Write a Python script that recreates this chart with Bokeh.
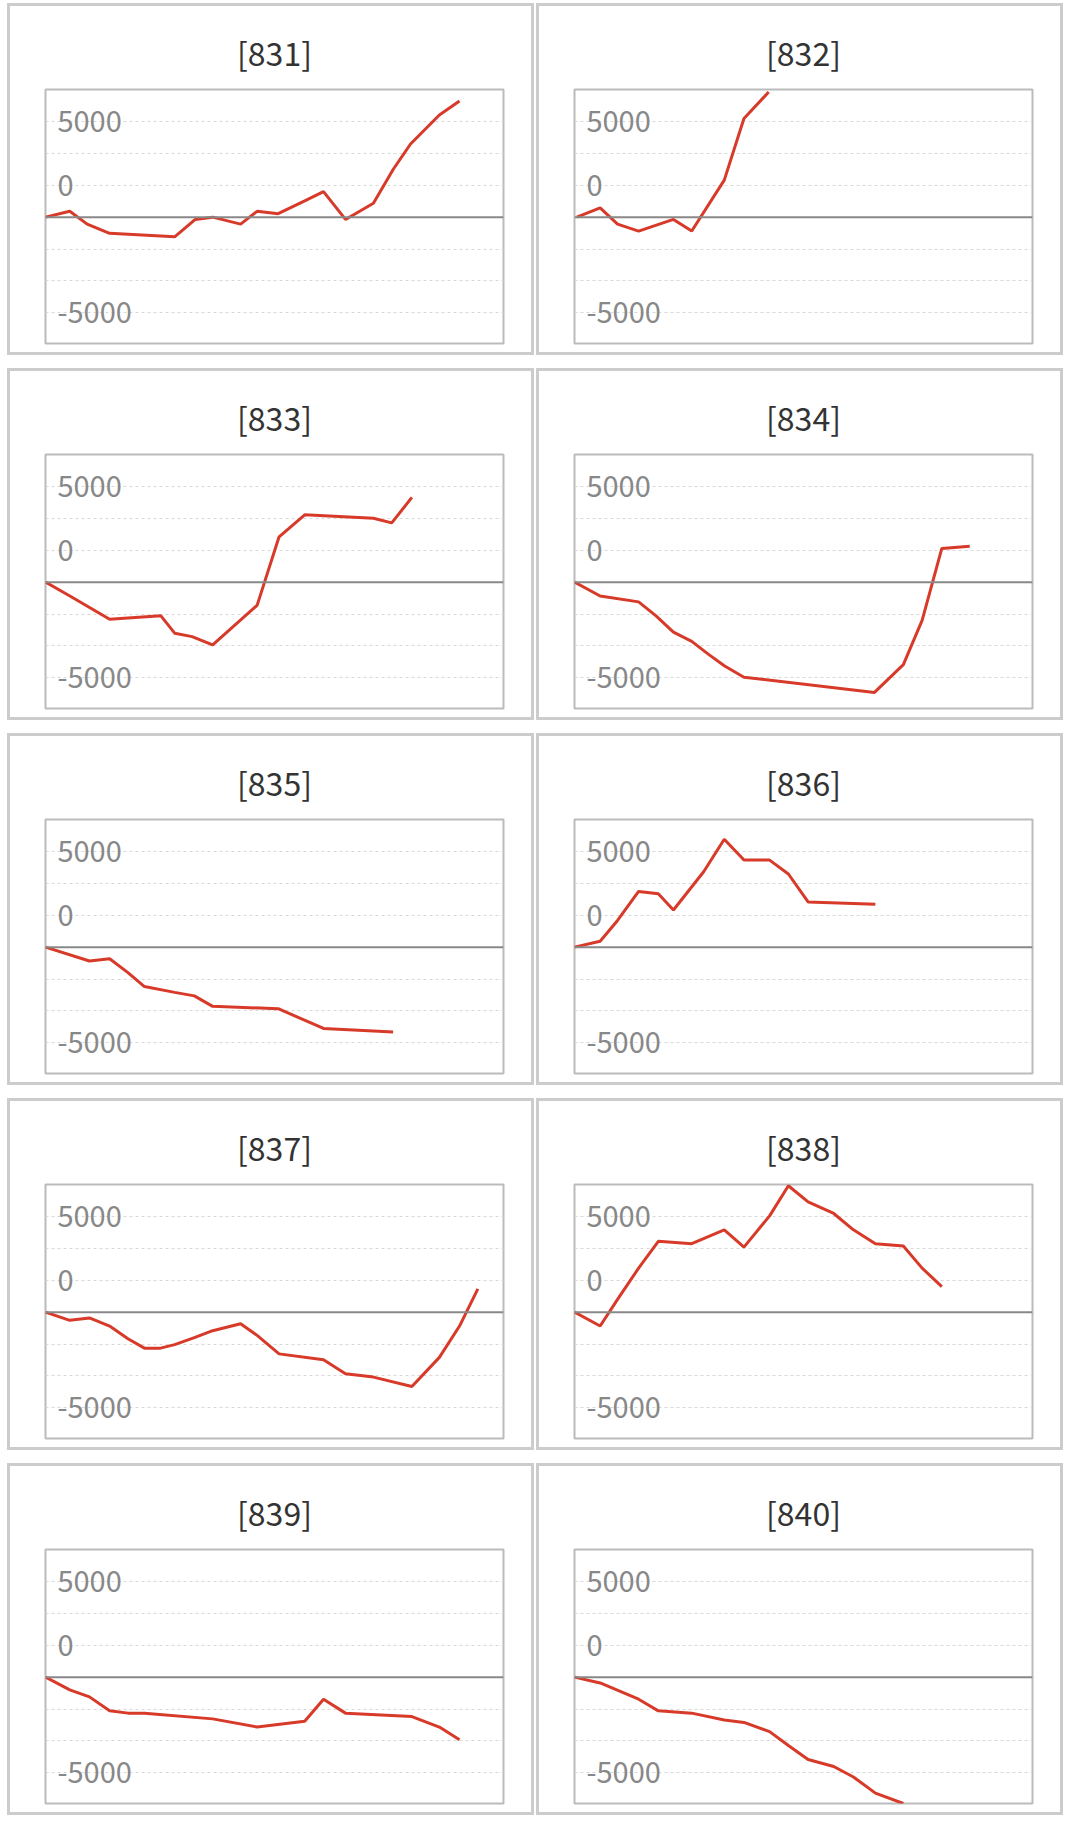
from bokeh.plotting import figure
from bokeh.layouts import row, column
from bokeh.models import FixedTicker, Span
from bokeh.core.properties import value
from bokeh.embed import file_html
from bokeh.resources import INLINE

names = ["[831]", "[832]", "[833]", "[834]", "[835]", "[836]", "[837]", "[838]", "[839]", "[840]"]
xs = [
    [0, 5.3, 9.1, 14, 28.2, 32.7, 36.5, 42.6, 46.2, 50.8, 56.6, 60.7, 65.5, 71.6, 75.9, 79.7, 86, 90.4],
    [0.5, 5.6, 9.4, 14, 21.6, 25.6, 32.7, 37, 42.4],
    [0, 5.8, 14, 25.2, 28.2, 32, 36.5, 46.2, 51, 56.6, 71.6, 75.6, 80],
    [0, 5.6, 14, 17.8, 21.6, 25.6, 29.2, 32.7, 37, 65.5, 71.8, 75.9, 80.2, 86.3],
    [0, 9.6, 14, 18, 21.6, 28.2, 32.5, 36.5, 50.8, 60.7, 75.9],
    [0, 5.6, 9.4, 14, 18.3, 21.6, 28.2, 32.7, 37, 42.6, 46.7, 51, 65.7],
    [0, 5.3, 9.6, 14, 18, 21.6, 25.1, 28.2, 32.5, 36.5, 42.6, 46.2, 51, 60.7, 65.5, 71.6, 80, 86, 90.4, 94.4],
    [0, 5.6, 9.4, 14, 18.3, 25.6, 32.7, 37, 42.6, 46.7, 51, 56.6, 60.9, 65.7, 71.8, 75.9, 80.2],
    [0, 5.3, 9.6, 14, 18, 21.6, 36.5, 46.2, 56.6, 60.7, 65.5, 80, 86, 90.4],
    [0, 5.6, 14, 18.3, 25.6, 32.7, 37, 42.6, 46.7, 51, 56.6, 60.9, 65.7, 71.8],
]
ys = [
    [0, 455, -545, -1270, -1545, -180, 0, -545, 455, 270, 1270, 2000, -180, 1090, 3730, 5730, 8000, 9100],
    [0, 730, -545, -1090, -180, -1090, 2900, 7730, 9800],
    [0, -1180, -2910, -2640, -4000, -4270, -4910, -1820, 3550, 5270, 5000, 4640, 6640],
    [0, -1090, -1545, -2640, -3910, -4640, -5640, -6550, -7450, -8640, -6460, -3000, 2640, 2820],
    [0, -1090, -910, -2000, -3090, -3545, -3820, -4640, -4820, -6370, -6640],
    [0, 455, 2090, 4365, 4180, 2910, 5910, 8450, 6820, 6820, 5730, 3545, 3360],
    [0, -640, -455, -1090, -2090, -2820, -2820, -2545, -2000, -1455, -910, -1820, -3270, -3730, -4820, -5090, -5820, -3545, -1090, 1820],
    [0, -1090, 1000, 3450, 5545, 5360, 6450, 5090, 7545, 9900, 8640, 7730, 6450, 5360, 5180, 3450, 2000],
    [0, -1000, -1545, -2640, -2820, -2820, -3270, -3910, -3450, -1730, -2820, -3090, -3910, -4910],
    [0, -455, -1730, -2640, -2820, -3360, -3545, -4270, -5360, -6450, -7000, -7820, -9090, -9900],
]
grid_ticks = [-7500, -5000, -2500, 2500, 5000, 7500]
label_pos = [7500, 2500, -7500]
label_text = ["5000", "0", "-5000"]

FONT = "Noto Sans CJK JP"

def panel(i):
    p = figure(width=527, height=352, x_range=(0, 100), y_range=(-9900, 10000),
               output_backend="svg", toolbar_location=None,
               min_border_left=35, min_border_right=34, min_border_top=83, min_border_bottom=15,
               styles={"border": "3px solid #cccccc", "box-sizing": "border-box"})
    p.title.text = names[i]
    p.title.align = "center"
    p.title.text_font = FONT
    p.title.text_font_size = "32px"
    p.title.text_font_style = "normal"
    p.title.text_color = "#333333"
    p.title.standoff = 30
    p.xaxis.visible = False
    p.yaxis.visible = False
    p.xgrid.visible = False
    p.ygrid.ticker = FixedTicker(ticks=grid_ticks)
    p.ygrid.grid_line_color = "#d8d8d8"
    p.ygrid.grid_line_dash = "3 3"
    p.outline_line_color = "#bbbbbb"
    p.outline_line_width = 2
    p.outline_line_alpha = 1
    p.add_layout(Span(location=0, dimension="width", line_color="#888888", line_width=2))
    p.text(x=[2.6] * len(label_pos), y=label_pos, text=label_text, text_color="#888888",
           text_font=value(FONT), text_font_size="29px", text_baseline="middle", text_align="left")
    p.line(xs[i], ys[i], line_color="#d83a2a", line_width=3)
    return p

rows = [row(panel(2 * r), panel(2 * r + 1), spacing=2) for r in range(5)]
layout = column(*rows, spacing=13, styles={"margin-left": "7px", "margin-top": "3px"})
open("out.html", "w").write(file_html(layout, INLINE))
